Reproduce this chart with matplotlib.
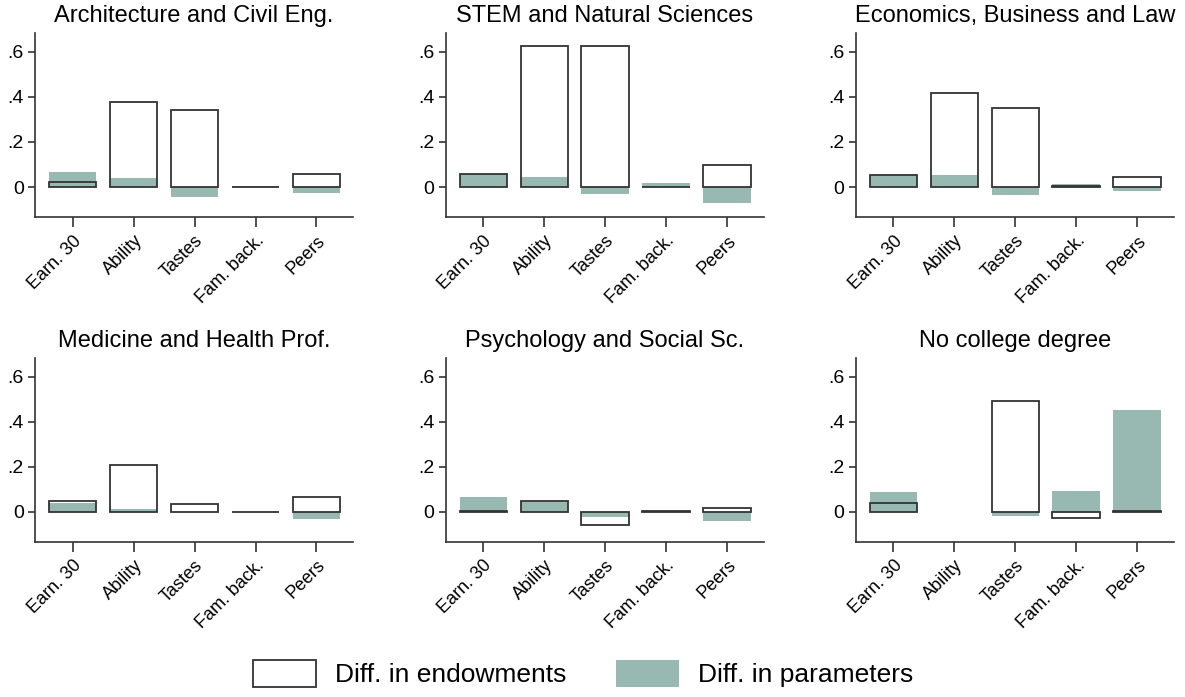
import numpy as np
import matplotlib.pyplot as plt
from matplotlib.patches import Patch

plt.rcParams['font.family'] = ['Liberation Sans', 'DejaVu Sans']

factors = ["Earn. 30", "Ability", "Tastes", "Fam. back.", "Peers"]
titles = ["Architecture and Civil Eng.", "STEM and Natural Sciences",
          "Economics, Business and Law", "Medicine and Health Prof.",
          "Psychology and Social Sc.", "No college degree"]

# contribution of differences in endowments (outlined bars)
endow_arch = [0.022, 0.378, 0.342, 0.002, 0.059]
endow_stem = [0.056, 0.627, 0.628, 0.002, 0.096]
endow_econ = [0.055, 0.418, 0.351, 0.003, 0.043]
endow_med = [0.049, 0.209, 0.034, -0.003, 0.064]
endow_psy = [0.003, 0.046, -0.059, 0.002, 0.015]
endow_nocol = [0.040, np.nan, 0.492, -0.027, 0.003]

# contribution of differences in parameters (filled bars)
param_arch = [0.065, 0.039, -0.044, 0.003, -0.028]
param_stem = [0.058, 0.046, -0.031, 0.019, -0.073]
param_econ = [0.055, 0.053, -0.037, 0.013, -0.016]
param_med = [0.040, 0.013, -0.003, 0.0, -0.034]
param_psy = [0.065, 0.045, -0.022, 0.0, -0.041]
param_nocol = [0.087, np.nan, -0.019, 0.092, 0.452]

endow = [endow_arch, endow_stem, endow_econ, endow_med, endow_psy, endow_nocol]
param = [param_arch, param_stem, param_econ, param_med, param_psy, param_nocol]

green = "#98b9b2"
dark = "#333333"

fig = plt.figure(figsize=(11.85, 6.97), dpi=100)
lefts = [0.0295, 0.376, 0.7221]
bottoms = [0.6887, 0.2228]
w, h = 0.2684, 0.264

x = np.arange(len(factors))
for i in range(6):
    ax = fig.add_axes([lefts[i % 3], bottoms[i // 3], w, h])
    ax.bar(x, param[i], width=0.78, color=green, edgecolor="none", zorder=1)
    ax.bar(x, endow[i], width=0.78, facecolor="none", edgecolor=dark,
           linewidth=1.3, zorder=2)
    ax.set_xlim(-0.62, 4.6)
    ax.set_ylim(-0.133, 0.684)
    ax.set_yticks([0, 0.2, 0.4, 0.6])
    ax.set_yticklabels(["0", ".2", ".4", ".6"], fontsize=14)
    ax.set_xticks(x)
    ax.set_xticklabels(factors, rotation=45, ha="right", rotation_mode="anchor",
                       fontsize=13)
    ax.tick_params(axis="x", length=7, width=1.2, color=dark, pad=4)
    ax.tick_params(axis="y", length=5, width=1.2, color=dark, pad=3)
    for s in ["top", "right"]:
        ax.spines[s].set_visible(False)
    for s in ["left", "bottom"]:
        ax.spines[s].set_color(dark)
        ax.spines[s].set_linewidth(1.2)
    ax.set_title(titles[i], fontsize=17, pad=8)

handles = [Patch(facecolor="white", edgecolor=dark, linewidth=1.3, label="Diff. in endowments"),
           Patch(facecolor=green, edgecolor="none", label="Diff. in parameters")]
fig.legend(handles=handles, loc="lower center", bbox_to_anchor=(0.492, -0.02), ncol=2,
           frameon=False, fontsize=19, handlelength=2.4, handleheight=1.2,
           columnspacing=1.9, handletextpad=0.7)

fig.savefig("out.png", dpi=100)
